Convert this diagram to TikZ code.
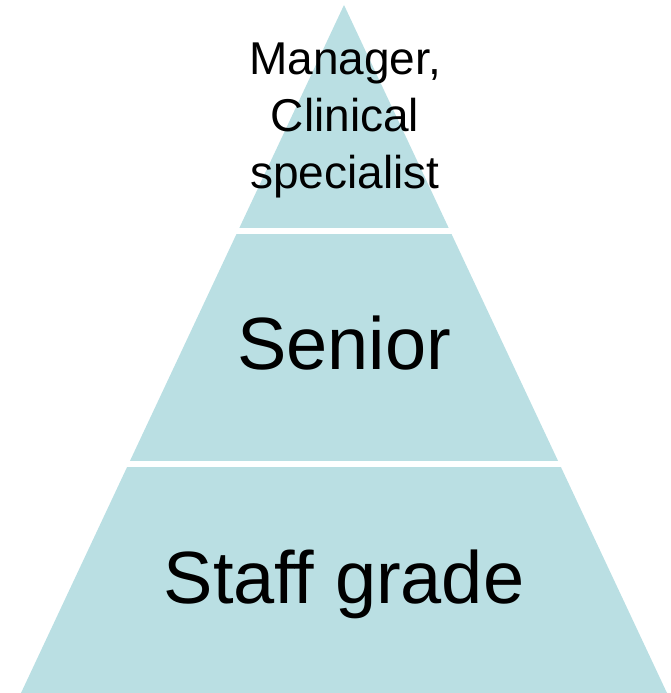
\documentclass[tikz,border=0pt]{standalone}
\usepackage{fontspec}
\setmainfont{Liberation Sans}
\definecolor{tierblue}{RGB}{186,223,227}

\begin{document}
\begin{tikzpicture}[
    x=1pt, y=-1pt,
    tier/.style={fill=tierblue, draw=none},
    label/.style={draw=none, inner sep=0pt, align=center, text=black}
]
\useasboundingbox (0, 0) rectangle (671, 693);

% pyramid, cut into three tiers by white gaps
\begin{scope}
\clip (344, 5) -- (667, 693) -- (21, 693) -- cycle;
\fill[tier] (0, 0) rectangle (671, 228);
\fill[tier] (0, 233.5) rectangle (671, 461);
\fill[tier] (0, 466.5) rectangle (671, 693);
\end{scope}

\node (Top) at (345, 188) [label, anchor=base, font=\fontsize{46}{57}\selectfont] {Manager,\\Clinical\hspace*{0.28em}\\specialist};
\node (Mid) at (344, 369) [label, anchor=base, font=\fontsize{74}{86}\selectfont] {Senior};
\node (Base) at (344, 603) [label, anchor=base, font=\fontsize{74}{86}\selectfont] {Staff grade};

\end{tikzpicture}
\end{document}
